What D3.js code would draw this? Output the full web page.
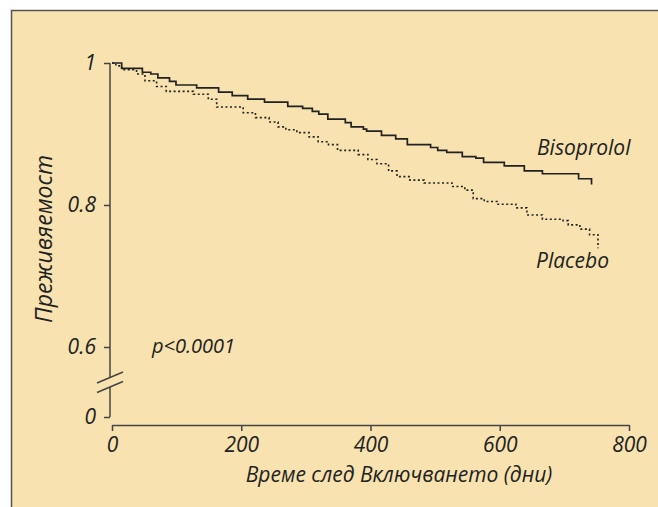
<!DOCTYPE html>
<html>
<head>
<meta charset="utf-8">
<script src="https://cdn.jsdelivr.net/npm/d3@7"></script>
<style>
  body { margin: 0; background: #fff; }
  text { font-family: "Open Sans", sans-serif; font-style: italic; fill: #222; }
</style>
</head>
<body>
<script>
var width = 658,
    height = 507;

// survival data (time in days, survival proportion)
var bisoTime = [0, 15, 47, 60, 71, 89, 99, 131, 165, 186, 210, 236, 272, 295, 310, 320, 334, 361, 370, 389, 394, 417, 439, 457, 493, 504, 518, 542, 563, 575, 607, 638, 666, 722, 742];
var bisoSurv = [1, 0.9925, 0.987, 0.9845, 0.979, 0.974, 0.969, 0.965, 0.959, 0.954, 0.949, 0.945, 0.939, 0.936, 0.932, 0.928, 0.921, 0.916, 0.910, 0.907, 0.904, 0.898, 0.893, 0.885, 0.881, 0.877, 0.874, 0.868, 0.866, 0.860, 0.855, 0.848, 0.844, 0.837, 0.829];

var placTime = [0, 6, 15, 38, 51, 69, 84, 126, 149, 162, 203, 222, 243, 257, 269, 286, 305, 319, 335, 349, 381, 396, 410, 428, 441, 461, 483, 526, 546, 559, 576, 596, 625, 642, 666, 698, 706, 724, 739, 752];
var placSurv = [1, 0.996, 0.9905, 0.9845, 0.975, 0.967, 0.960, 0.956, 0.949, 0.938, 0.930, 0.923, 0.917, 0.910, 0.906, 0.902, 0.896, 0.889, 0.885, 0.877, 0.871, 0.864, 0.858, 0.848, 0.840, 0.835, 0.831, 0.826, 0.821, 0.809, 0.805, 0.801, 0.796, 0.786, 0.780, 0.778, 0.772, 0.766, 0.758, 0.739];

var xTicks = [0, 200, 400, 600, 800];
var yTicks = [0.6, 0.8, 1];
var yLowTicks = [0];

var svg = d3.select("body")
        .append("svg")
        .attr("width", width)
        .attr("height", height);

// panel background with top/left frame
svg.append("rect")
        .attr("x", 11).attr("y", 10)
        .attr("width", width - 11).attr("height", height - 10)
        .attr("fill", "#f7e2b0");
svg.append("path")
        .attr("d", "M11.5," + height + " L11.5,10.5 L" + width + ",10.5")
        .attr("fill", "none")
        .attr("stroke", "#555")
        .attr("stroke-width", 1.5);

var x = d3.scaleLinear().domain([0, 800]).range([112, 629]);
var y = d3.scaleLinear().domain([0.6, 1]).range([347, 63]);
var yLow = d3.scaleLinear().domain([0, 0.1]).range([417, 387]);

var axisColor = "#444";

// x axis
var gx = svg.append("g")
        .attr("transform", "translate(0,425)")
        .call(d3.axisBottom(x)
                .tickValues(xTicks)
                .tickSize(6)
                .tickSizeOuter(0)
                .tickPadding(2)
                .tickFormat(function (d) { return String(d); }));

// y axis (upper part)
var gy = svg.append("g")
        .attr("transform", "translate(110,0)")
        .call(d3.axisLeft(y)
                .tickValues(yTicks)
                .tickSize(6)
                .tickPadding(8)
                .tickFormat(function (d) { return String(d); }));
gy.select(".domain").remove();

// y axis (below the break)
var gyl = svg.append("g")
        .attr("transform", "translate(110,0)")
        .call(d3.axisLeft(yLow)
                .tickValues(yLowTicks)
                .tickSize(6)
                .tickPadding(8)
                .tickFormat(function (d) { return String(d); }));
gyl.select(".domain").remove();

svg.selectAll(".tick text")
        .style("font-size", "21px")
        .attr("fill", "#222");
gx.selectAll(".tick text").attr("dy", "0.9em");
svg.selectAll(".domain, .tick line")
        .attr("stroke", axisColor)
        .attr("stroke-width", 1.5);

// y axis line split by the break marks
svg.append("line")
        .attr("x1", 110).attr("x2", 110)
        .attr("y1", y(1)).attr("y2", 377)
        .attr("stroke", axisColor).attr("stroke-width", 1.5);
svg.append("line")
        .attr("x1", 110).attr("x2", 110)
        .attr("y1", 387).attr("y2", yLow(0))
        .attr("stroke", axisColor).attr("stroke-width", 1.5);
[0, 9.5].forEach(function (off) {
    svg.append("line")
            .attr("x1", 97).attr("y1", 383 + off)
            .attr("x2", 123).attr("y2", 372 + off)
            .attr("stroke", axisColor).attr("stroke-width", 1.5);
});

// survival curves
var line = d3.line()
        .x(function (d) { return x(d[0]); })
        .y(function (d) { return y(d[1]); })
        .curve(d3.curveStepAfter);

svg.append("path")
        .datum(d3.zip(placTime, placSurv))
        .attr("d", line)
        .attr("fill", "none")
        .attr("stroke", "#222")
        .attr("stroke-width", 1.6)
        .attr("stroke-dasharray", "2,2.5");

svg.append("path")
        .datum(d3.zip(bisoTime, bisoSurv))
        .attr("d", line)
        .attr("fill", "none")
        .attr("stroke", "#222")
        .attr("stroke-width", 1.7);

// labels
svg.append("text")
        .attr("x", 537).attr("y", 155)
        .style("font-size", "21px")
        .text("Bisoprolol");
svg.append("text")
        .attr("x", 536).attr("y", 268)
        .style("font-size", "21px")
        .text("Placebo");
svg.append("text")
        .attr("x", 152).attr("y", 353)
        .style("font-size", "20px")
        .text("p<0.0001");

svg.append("text")
        .attr("x", 399).attr("y", 482)
        .attr("text-anchor", "middle")
        .style("font-size", "21px")
        .text("Време след Включването (дни)");

svg.append("text")
        .attr("transform", "translate(52,239) rotate(-90)")
        .attr("text-anchor", "middle")
        .style("font-size", "23px")
        .text("Преживяемост");
</script>
</body>
</html>
